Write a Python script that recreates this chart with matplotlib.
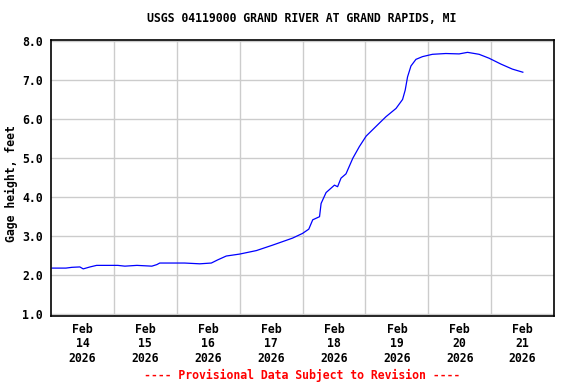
import numpy as np
import matplotlib
matplotlib.use('Agg')
import matplotlib.pyplot as plt

# hours since Feb 14 2026 00:00, gage height in feet
hours = [0.4, 5.7, 8.0, 11.0, 12.3, 14.9, 17.4, 25.5, 28.2, 32.8, 38.5, 40.4, 41.5,
         51.0, 56.8, 61.2, 63.6, 66.9, 72.0, 78.4, 84.6, 92.2, 96.0, 98.4, 99.9,
         102.5, 103.1, 105.0, 108.2, 109.4, 110.7, 112.6, 115.2, 117.7, 120.3,
         125.3, 127.9, 131.7, 134.2, 135.2, 136.1, 137.4, 139.3, 141.8, 145.6,
         150.7, 155.8, 159.0, 163.4, 167.2, 171.7, 176.1, 180.1]
height = [2.17, 2.17, 2.19, 2.20, 2.15, 2.20, 2.24, 2.24, 2.22, 2.24, 2.22, 2.26, 2.30,
          2.30, 2.28, 2.30, 2.38, 2.48, 2.53, 2.62, 2.76, 2.94, 3.06, 3.17, 3.41,
          3.49, 3.83, 4.11, 4.30, 4.26, 4.48, 4.59, 4.99, 5.29, 5.56,
          5.89, 6.06, 6.27, 6.50, 6.74, 7.08, 7.36, 7.53, 7.60, 7.66,
          7.68, 7.67, 7.71, 7.66, 7.56, 7.41, 7.28, 7.20]

day_labels = ['Feb\n14\n2026', 'Feb\n15\n2026', 'Feb\n16\n2026', 'Feb\n17\n2026',
              'Feb\n18\n2026', 'Feb\n19\n2026', 'Feb\n20\n2026', 'Feb\n21\n2026']
yticks = [1.0, 2.0, 3.0, 4.0, 5.0, 6.0, 7.0, 8.0]

title = 'USGS 04119000 GRAND RIVER AT GRAND RAPIDS, MI'
font = {'family': 'DejaVu Sans Mono', 'weight': 'bold', 'size': 8.3}

W, H = 576, 384
fig = plt.figure(figsize=(W / 100, H / 100), dpi=100)
ax = fig.add_axes([51 / W, (H - 316) / H, (554 - 51) / W, (316 - 39.5) / H])

days = np.array(hours) / 24.0
ax.plot(days, height, color='#0000ff', lw=0.9)

ax.set_xlim(0, 8)
ax.set_ylim(0.94, 8.04)

# grid lines at midnight, labels at noon
ax.set_xticks(np.arange(1, 8), minor=True)
ax.set_xticks(np.arange(8) + 0.5)
ax.set_xticklabels(day_labels, fontdict=font, linespacing=1.15)
ax.set_yticks(yticks)
ax.set_yticklabels(['%.1f' % v for v in yticks], fontdict=font)
ax.grid(which='minor', axis='x', color='#cccccc', lw=1.0)
ax.grid(which='major', axis='y', color='#cccccc', lw=1.0)
ax.tick_params(which='both', length=0)
ax.tick_params(axis='y', pad=6)
ax.tick_params(axis='x', pad=5)
for s in ax.spines.values():
    s.set_linewidth(1.2)
    s.set_color('black')

fig.text(302 / W, 1 - 19 / H, title, ha='center', va='center', **font)
fig.text(11 / W, 1 - 184 / H, 'Gage height, feet', rotation=90,
         ha='center', va='center', **font)
fig.text(302 / W, 1 - 375 / H, '---- Provisional Data Subject to Revision ----',
         ha='center', va='center', color='red', **font)

fig.savefig('out.png', dpi=100)
